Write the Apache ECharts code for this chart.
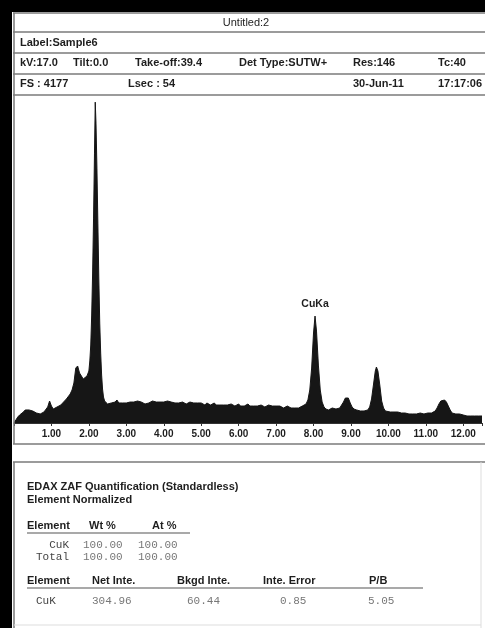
<!DOCTYPE html>
<html>
<head>
<meta charset="utf-8">
<script src="https://cdn.jsdelivr.net/npm/echarts@6/dist/echarts.min.js"></script>
<style>
html,body{margin:0;padding:0;background:#fff;}
#chart{width:485px;height:628px;}
</style>
</head>
<body>
<div id="chart"></div>
<script>
// ---- Spectrum data (energy in keV, counts) ----
var energy = [
 0.00,0.05,0.10,0.15,0.20,0.25,0.30,0.35,0.40,0.45,0.50,0.55,0.60,0.65,0.70,0.75,0.80,0.85,0.90,0.95,
 1.00,1.05,1.10,1.15,1.20,1.25,1.30,1.35,1.40,1.45,1.50,1.55,1.60,1.65,1.70,1.75,1.80,1.85,1.90,1.95,
 2.00,2.025,2.05,2.075,2.10,2.125,2.15,2.17,2.19,2.215,2.24,2.265,2.29,2.315,2.34,2.365,2.39,2.42,2.45,
 2.50,2.55,2.60,2.65,2.70,2.75,2.80,2.85,2.90,2.95,3.00,3.05,3.10,3.15,3.20,3.25,3.30,3.35,3.40,3.45,
 3.50,3.55,3.60,3.65,3.70,3.75,3.80,3.85,3.90,3.95,4.00,4.05,4.10,4.15,4.20,4.25,4.30,4.35,4.40,4.45,
 4.50,4.55,4.60,4.65,4.70,4.75,4.80,4.85,4.90,4.95,5.00,5.05,5.10,5.15,5.20,5.25,5.30,5.35,5.40,5.45,
 5.50,5.55,5.60,5.65,5.70,5.75,5.80,5.85,5.90,5.95,6.00,6.05,6.10,6.15,6.20,6.25,6.30,6.35,6.40,6.45,
 6.50,6.55,6.60,6.65,6.70,6.75,6.80,6.85,6.90,6.95,7.00,7.05,7.10,7.15,7.20,7.25,7.30,7.35,7.40,7.45,
 7.50,7.55,7.60,7.65,7.70,7.75,7.80,7.85,7.90,7.95,8.00,8.04,8.08,8.13,8.18,8.23,8.28,8.33,8.40,8.45,
 8.50,8.55,8.60,8.65,8.70,8.75,8.80,8.85,8.89,8.93,8.98,9.03,9.08,9.15,9.20,9.25,9.30,9.35,9.40,9.45,
 9.50,9.55,9.60,9.65,9.68,9.72,9.77,9.82,9.87,9.92,9.97,10.05,10.10,10.15,10.20,10.25,10.30,10.35,10.40,10.45,
 10.50,10.55,10.60,10.65,10.70,10.75,10.80,10.85,10.90,10.95,11.00,11.05,11.10,11.15,11.20,11.25,11.30,11.35,11.40,11.45,
 11.50,11.55,11.60,11.65,11.70,11.75,11.80,11.85,11.90,11.95,12.00,12.05,12.10,12.15,12.20,12.25,12.30,12.35,12.40,12.45,12.50
];
var counts = [
 0,38,76,102,115,140,166,178,166,178,153,140,127,115,115,127,140,153,204,280,
 216,178,191,204,204,229,255,267,306,331,369,420,509,700,726,637,662,560,535,599,
 662,790,993,1375,1910,2610,3437,4086,3819,3246,2546,1846,1273,891,611,433,331,280,255,
 242,267,255,242,267,293,255,267,255,267,255,242,267,255,267,255,280,255,267,255,
 242,267,255,267,280,255,267,255,267,242,267,255,280,255,267,242,255,267,255,242,
 267,255,242,255,267,242,255,242,255,242,255,242,229,255,242,229,242,255,229,242,
 229,242,229,242,229,216,242,229,216,229,242,216,229,216,229,242,216,229,216,229,
 216,204,229,216,204,216,229,204,216,204,216,204,216,204,191,204,216,204,191,204,
 191,204,191,204,216,229,242,293,420,700,1146,1362,1171,738,420,267,204,178,166,178,
 191,178,178,178,191,216,267,318,331,318,255,204,178,166,166,153,166,153,153,166,
 204,306,484,662,713,662,484,280,191,153,140,140,127,140,127,140,127,127,115,127,
 127,115,127,115,127,115,115,127,115,115,115,127,115,127,127,153,191,242,280,293,
 293,267,216,166,127,115,115,102,115,102,102,102,89,102,89,102,89,89,89,76,89
];
var fullScale = 4177;
var xTicks = [1,2,3,4,5,6,7,8,9,10,11,12];
var peakLabels = [{name:'CuKa', energy:8.04, counts:1362}];

var headerRow1 = ['Untitled:2'];
var headerRow2 = ['Label:Sample6'];
var headerRow3 = ['kV:17.0','Tilt:0.0','Take-off:39.4','Det Type:SUTW+','Res:146','Tc:40'];
var headerRow4 = ['FS : 4177','Lsec : 54','','','30-Jun-11','17:17:06'];

var quantTitle = 'EDAX ZAF Quantification (Standardless)';
var quantSubtitle = 'Element Normalized';
var table1Head = ['Element','Wt %','At %'];
var table1Rows = [['CuK','100.00','100.00'],['Total','100.00','100.00']];
var table2Head = ['Element','Net Inte.','Bkgd Inte.','Inte. Error','P/B'];
var table2Rows = [['CuK','304.96','60.44','0.85','5.05']];

var seriesData = energy.map(function(e,i){return [e,counts[i]];});

var BOLD = 'bold 11px "Liberation Sans", Arial, sans-serif';
var REG = '11px "Liberation Sans", Arial, sans-serif';
var MONO = '11px "Liberation Mono", "Courier New", monospace';
var TXT = '#1e1e1e';
var LINE = '#7a7a7a';

function txt(x,y,s,font,align,color){
  return {type:'text', z:100, style:{x:x,y:y,text:s,font:font,fill:color||TXT,
    textAlign:align||'left', textVerticalAlign:'middle'}};
}
function ln(x1,y1,x2,y2,c,w){
  return {type:'line', z:90, shape:{x1:x1,y1:y1,x2:x2,y2:y2}, style:{stroke:c||LINE,lineWidth:w||1.5}};
}

var g = [];
// black scan borders
g.push({type:'rect', z:95, shape:{x:0,y:0,width:485,height:12}, style:{fill:'#000'}});
g.push({type:'rect', z:95, shape:{x:0,y:0,width:12,height:628}, style:{fill:'#000'}});
// header box lines
[13,32,53,74,95].forEach(function(y){ g.push(ln(13,y,485,y)); });
g.push(ln(14,13,14,444));
g.push(ln(13,444,485,444));
// lower box
g.push(ln(13,462,485,462));
g.push(ln(14,462,14,628));
g.push(ln(481,462,481,628,'#dddddd',1));
g.push(ln(14,625,481,625,'#dddddd',1));
// header texts
g.push(txt(246,23,headerRow1[0],REG,'center'));
g.push(txt(20,43,headerRow2[0],BOLD));
var r3x = [20,73,135,239,353,438];
headerRow3.forEach(function(s,i){ g.push(txt(r3x[i],63,s,BOLD)); });
headerRow4.forEach(function(s,i){ if(s) g.push(txt(r3x[i]===73?128:r3x[i],84,s,BOLD)); });
// quantification table
g.push(txt(27,487,quantTitle,BOLD));
g.push(txt(27,500,quantSubtitle,BOLD));
var t1x = [27,89,152];
table1Head.forEach(function(s,i){ g.push(txt(t1x[i],526,s,BOLD)); });
g.push(ln(27,533,190,533,'#555',1.2));
var t1vx = [69,83,138];
table1Rows.forEach(function(r,j){
  var y = 545 + j*12;
  g.push(txt(t1vx[0],y,r[0],MONO,'right','#444'));
  g.push(txt(t1vx[1],y,r[1],MONO,'left','#777'));
  g.push(txt(t1vx[2],y,r[2],MONO,'left','#777'));
});
var t2x = [27,92,177,263,369];
table2Head.forEach(function(s,i){ g.push(txt(t2x[i],581,s,BOLD)); });
g.push(ln(27,588,423,588,'#555',1.2));
var t2vx = [36,92,187,280,368];
table2Rows.forEach(function(r){
  r.forEach(function(s,i){ g.push(txt(t2vx[i],601,s,MONO,'left', i===0?'#444':'#777')); });
});

var chart = echarts.init(document.getElementById('chart'), null, {renderer:'canvas'});
chart.setOption({
  animation:false,
  backgroundColor:'#fff',
  grid:{left:14, right:0, top:95, bottom:205, containLabel:false},
  xAxis:{
    type:'value', min:0, max:12.5, interval:1,
    axisLine:{show:true, lineStyle:{color:'#333', width:1}},
    axisTick:{show:true, length:3, lineStyle:{color:'#333'}},
    splitLine:{show:false},
    axisLabel:{
      margin:6, color:'#1e1e1e', fontSize:10, fontWeight:'bold',
      fontFamily:'"Liberation Sans", Arial, sans-serif',
      formatter:function(v){ return xTicks.indexOf(v) >= 0 ? v.toFixed(2) : ''; }
    }
  },
  yAxis:{type:'value', min:0, max:fullScale, show:false, splitLine:{show:false}},
  series:[{
    type:'line', data:seriesData, showSymbol:false, symbol:'none', smooth:false,
    lineStyle:{color:'#161616', width:1},
    areaStyle:{color:'#161616', opacity:1},
    markPoint:{
      symbol:'circle', symbolSize:0,
      label:{show:true, position:'top', distance:6, color:'#1e1e1e', fontSize:10.5, fontWeight:'bold',
        fontFamily:'"Liberation Sans", Arial, sans-serif', formatter:function(p){return p.name;}},
      data: peakLabels.map(function(p){ return {name:p.name, coord:[p.energy,p.counts]}; })
    }
  }],
  graphic:g
});
</script>
</body>
</html>
